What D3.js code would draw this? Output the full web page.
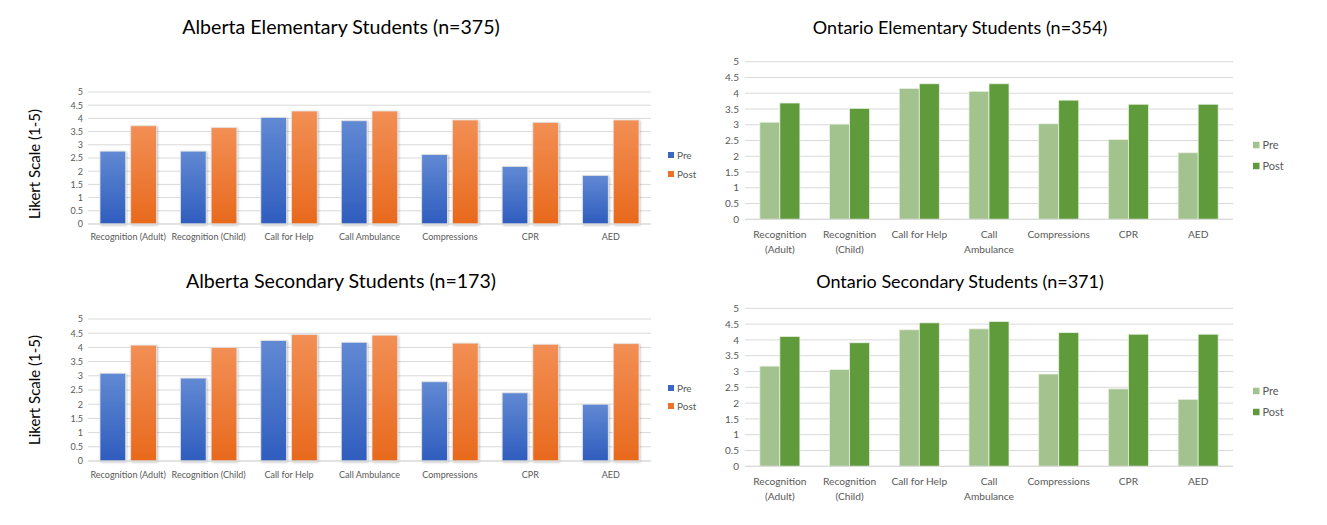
<!DOCTYPE html>
<html>
<head>
<meta charset="utf-8">
<script src="https://cdn.jsdelivr.net/npm/d3@7"></script>
<style>
  body { margin: 0; background: #fff; }
  text { font-family: Lato, "Open Sans", sans-serif; }
</style>
</head>
<body>
<script>
// categories and series
let categories = ["Recognition (Adult)", "Recognition (Child)", "Call for Help", "Call Ambulance", "Compressions", "CPR", "AED"];
let ontarioLabelLines = [["Recognition", "(Adult)"], ["Recognition", "(Child)"], ["Call for Help"], ["Call", "Ambulance"], ["Compressions"], ["CPR"], ["AED"]];
let series = ["Pre", "Post"];
let yTicks = [0, 0.5, 1, 1.5, 2, 2.5, 3, 3.5, 4, 4.5, 5];

let albertaElemPre = [2.76, 2.76, 4.04, 3.91, 2.63, 2.18, 1.84];
let albertaElemPost = [3.72, 3.65, 4.28, 4.28, 3.94, 3.85, 3.94];
let albertaSecPre = [3.09, 2.92, 4.24, 4.18, 2.79, 2.40, 2.00];
let albertaSecPost = [4.08, 4.00, 4.45, 4.43, 4.15, 4.11, 4.13];
let ontarioElemPre = [3.08, 3.02, 4.15, 4.06, 3.03, 2.53, 2.11];
let ontarioElemPost = [3.69, 3.52, 4.30, 4.30, 3.78, 3.65, 3.65];
let ontarioSecPre = [3.17, 3.06, 4.32, 4.35, 2.92, 2.45, 2.12];
let ontarioSecPost = [4.11, 3.91, 4.54, 4.58, 4.23, 4.18, 4.18];

let svg = d3.select("body").append("svg").attr("width", 1327).attr("height", 525);
let defs = svg.append("defs");

function grad(id, top, bottom) {
    let g = defs.append("linearGradient").attr("id", id).attr("x1", 0).attr("y1", 0).attr("x2", 0).attr("y2", 1);
    g.append("stop").attr("offset", "0%").attr("stop-color", top);
    g.append("stop").attr("offset", "100%").attr("stop-color", bottom);
}
grad("gPre", "#6189d3", "#2f5dbe");
grad("gPost", "#f28f55", "#e8691c");

let shadow = defs.append("filter").attr("id", "shadow").attr("x", "-20%").attr("y", "-5%").attr("width", "150%").attr("height", "115%");
shadow.append("feDropShadow").attr("dx", 1).attr("dy", 1).attr("stdDeviation", 1).attr("flood-color", "#000").attr("flood-opacity", 0.25);

function drawPanel(p) {
    let x = d3.scaleBand().domain(categories).range([p.x0, p.x1]);
    let xs = d3.scaleBand().domain(series).range([0, x.bandwidth()]).paddingInner(p.pi).paddingOuter(p.po);
    let y = d3.scaleLinear().domain([0, 5]).range([p.yBottom, p.yTop]);
    let g = svg.append("g");

    // grid
    g.selectAll("line.grid").data(yTicks).enter().append("line")
        .attr("x1", p.x0).attr("x2", p.x1)
        .attr("y1", d => y(d)).attr("y2", d => y(d))
        .attr("stroke", "#d9d9d9").attr("stroke-width", 1);

    let yAxis = g.append("g").attr("transform", "translate(" + p.x0 + ",0)")
        .call(d3.axisLeft(y).tickValues(yTicks).tickSize(0).tickPadding(p.tickPad).tickFormat(d3.format("")));
    yAxis.select(".domain").remove();
    yAxis.selectAll("text").attr("fill", "#595959").attr("font-size", p.tickFont).style("font-family", "Lato, sans-serif");

    let data = categories.map((c, i) => ({ c: c, i: i, vals: [p.pre[i], p.post[i]] }));
    let groups = g.selectAll("g.cat").data(data).enter().append("g")
        .attr("transform", d => "translate(" + x(d.c) + ",0)");
    groups.selectAll("rect").data(d => series.map((s, k) => ({ s: s, v: d.vals[k] }))).enter().append("rect")
        .attr("x", d => xs(d.s))
        .attr("width", xs.bandwidth())
        .attr("y", d => y(d.v))
        .attr("height", d => p.yBottom - y(d.v))
        .attr("fill", d => d.s === "Pre" ? p.preFill : p.postFill)
        .attr("stroke", p.barStroke).attr("stroke-width", 0.8)
        .attr("filter", p.shadow ? "url(#shadow)" : null);

    // x labels
    let lab = g.selectAll("text.xl").data(data).enter().append("text")
        .attr("text-anchor", "middle")
        .attr("x", d => x(d.c) + x.bandwidth() / 2)
        .attr("y", p.labelY)
        .attr("fill", "#595959").attr("font-size", p.labelFont);
    lab.selectAll("tspan").data(d => p.wrap ? ontarioLabelLines[d.i] : [d.c]).enter().append("tspan")
        .attr("x", function() { return d3.select(this.parentNode).attr("x"); })
        .attr("dy", (d, k) => k === 0 ? 0 : p.lineH)
        .text(d => d);

    // baseline
    g.append("line").attr("x1", p.x0).attr("x2", p.x1).attr("y1", p.yBottom).attr("y2", p.yBottom)
        .attr("stroke", "#d9d9d9");

    // title
    svg.append("text").attr("x", p.titleX).attr("y", p.titleY).attr("text-anchor", "middle")
        .attr("font-size", p.titleFont).attr("fill", "#000").text(p.title);

    if (p.yLabel) {
        svg.append("text").attr("transform", "translate(40," + p.yLabelY + ") rotate(-90)")
            .attr("text-anchor", "middle").attr("font-size", 15).attr("fill", "#000").text("Likert Scale (1-5)");
    }

    // legend
    let leg = svg.append("g");
    series.forEach((s, k) => {
        let ly = p.legY[k];
        leg.append("rect").attr("x", p.legX).attr("y", ly - p.legSq / 2).attr("width", p.legSq).attr("height", p.legSq)
            .attr("fill", s === "Pre" ? p.preLeg : p.postLeg);
        leg.append("text").attr("x", p.legX + p.legSq + 3).attr("y", ly).attr("dy", "0.35em")
            .attr("font-size", p.legFont).attr("fill", "#595959").text(s);
    });
}

let albertaBase = {
    x0: 88, x1: 651, pi: 0.163, po: 0.39, tickPad: 5, tickFont: 9, labelFont: 9, wrap: false, lineH: 0,
    preFill: "url(#gPre)", postFill: "url(#gPost)", barStroke: "#e4e4e4", shadow: true,
    preLeg: "#3a66c4", postLeg: "#ec7325", legX: 668, legSq: 6, legFont: 10,
    titleX: 341, titleFont: 19.6, yLabel: true
};
let ontarioBase = {
    x0: 745, x1: 1233, pi: 0, po: 0.74, tickPad: 6, tickFont: 10, labelFont: 10.2, wrap: true, lineH: 14.5,
    preFill: "#a2c38e", postFill: "#5f9a3b", barStroke: "#e8f0e2", shadow: false,
    preLeg: "#a2c38e", postLeg: "#5f9a3b", legX: 1253, legSq: 6.5, legFont: 11,
    titleX: 960, titleFont: 18, yLabel: false
};

drawPanel(Object.assign({}, albertaBase, {
    title: "Alberta Elementary Students (n=375)", titleY: 34, yTop: 92, yBottom: 224, labelY: 240, yLabelY: 164,
    pre: albertaElemPre, post: albertaElemPost, legY: [155, 174]
}));
drawPanel(Object.assign({}, albertaBase, {
    title: "Alberta Secondary Students (n=173)", titleY: 288, yTop: 319, yBottom: 461, labelY: 478, yLabelY: 390,
    pre: albertaSecPre, post: albertaSecPost, legY: [388, 406]
}));
drawPanel(Object.assign({}, ontarioBase, {
    title: "Ontario Elementary Students (n=354)", titleY: 34, yTop: 61.7, yBottom: 219.3, labelY: 238,
    pre: ontarioElemPre, post: ontarioElemPost, legY: [145, 166]
}));
drawPanel(Object.assign({}, ontarioBase, {
    title: "Ontario Secondary Students (n=371)", titleY: 288, yTop: 308.3, yBottom: 466.3, labelY: 485,
    pre: ontarioSecPre, post: ontarioSecPost, legY: [391, 412]
}));
</script>
</body>
</html>
